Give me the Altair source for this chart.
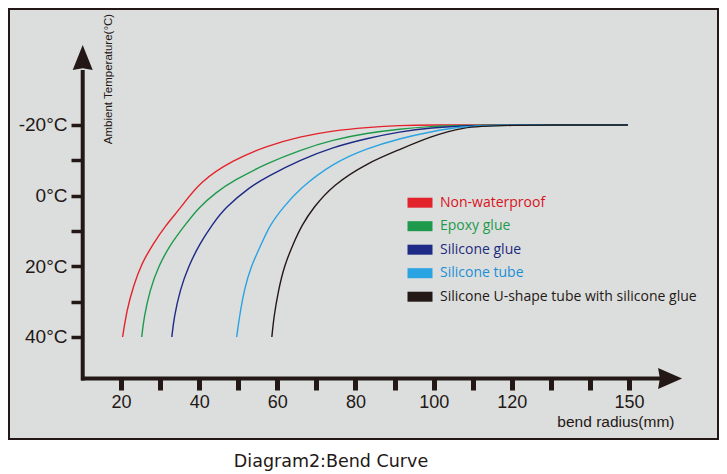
import altair as alt
import pandas as pd

# ---------------- data ----------------
series_names = [
    "Non-waterproof",
    "Epoxy glue",
    "Silicone glue",
    "Silicone tube",
    "Silicone U-shape tube with silicone glue",
]
series_colors = ["#e3232b", "#1f9a4c", "#1d2a86", "#2aa3e2", "#231815"]
label_colors = ["#d9121c", "#1f9a4c", "#1d2a7e", "#1b8fd6", "#231815"]

red_radius = [20.4, 21.5, 23.1, 25.3, 28.3, 31.3, 35.3, 40.2, 48.7, 57.4, 65.8, 74.2, 82.9, 91.4, 99.1, 117.0, 149.7]
red_temp = [40, 32.4, 25.8, 19.1, 13.5, 8.6, 3.4, -4.0, -10.1, -14.1, -16.7, -18.4, -19.3, -19.9, -20, -20, -20]

green_radius = [25.3, 25.9, 27.4, 29.5, 32.8, 36.4, 39.8, 44.5, 48.7, 57.4, 65.8, 74.2, 82.9, 91.4, 99.1, 108.0, 149.7]
green_temp = [40, 34.3, 26.7, 20.1, 13.5, 8.3, 3.4, -1.1, -4.2, -9.2, -12.9, -15.8, -17.7, -18.9, -19.6, -20, -20]

blue_radius = [33.0, 33.6, 35.1, 37.2, 40.2, 43.3, 46.6, 53.0, 57.4, 65.8, 74.2, 82.9, 91.4, 99.1, 109.3, 117.0, 149.7]
blue_temp = [40, 34.3, 26.7, 20.1, 13.5, 8.3, 3.4, -2.5, -5.4, -10.1, -13.7, -16.2, -18.1, -19.2, -19.9, -20, -20]

lightblue_radius = [49.6, 50.3, 51.5, 53.2, 56.0, 58.1, 61.4, 65.8, 74.2, 82.9, 91.4, 99.1, 107.5, 116.2, 149.7]
lightblue_temp = [40, 34.3, 26.7, 20.1, 13.5, 8.3, 3.4, -2.1, -9.2, -13.4, -16.2, -18.1, -19.6, -20, -20]

black_radius = [58.6, 59.1, 60.3, 61.7, 64.1, 66.3, 69.2, 74.2, 82.9, 91.4, 99.1, 107.5, 116.2, 149.7]
black_temp = [40, 34.3, 26.7, 20.1, 13.5, 8.3, 3.4, -3.0, -9.2, -13.1, -16.7, -19.4, -20, -20]

x_tick_values = [20, 30, 40, 50, 60, 70, 80, 90, 100, 110, 120, 130, 140, 150]
x_label_values = [20, 40, 60, 80, 100, 120, 150]
y_tick_values = [-20, -10, 0, 10, 20, 30, 40]

# axis-line / arrow extents (data units)
x_domain = [-8.66, 172.76]
y_domain = [-52.83, 68.87]
yaxis_at_radius = 10.2
yaxis_from, yaxis_to = -35.6, 52.3
xaxis_at_temp = 51.75
xaxis_from, xaxis_to = 9.76, 158.4
arrow_up_at = -39.1
arrow_right_at = 160.5

# ---------------- build table ----------------
all_series = [
    (red_radius, red_temp),
    (green_radius, green_temp),
    (blue_radius, blue_temp),
    (lightblue_radius, lightblue_temp),
    (black_radius, black_temp),
]
rows = []
for name, (rs, ts) in zip(series_names, all_series):
    for i, (r, t) in enumerate(zip(rs, ts)):
        rows.append({"series": name, "radius": r, "temp": t, "order": i})
df = pd.DataFrame(rows)

ink = "#231815"
xscale = alt.Scale(domain=x_domain, nice=False, zero=False)
yscale = alt.Scale(domain=y_domain, nice=False, zero=False, reverse=True)

x_label_test = "indexof([" + ",".join(str(v) for v in x_label_values) + "], datum.value) >= 0 ? datum.label : ''"

color_expr = ""
for n, c in zip(series_names[:-1], label_colors[:-1]):
    color_expr += f"datum.value == '{n}' ? '{c}' : "
color_expr += f"'{label_colors[-1]}'"

x_axis = alt.Axis(
    values=x_tick_values,
    labelExpr=x_label_test,
    offset=-60.5,
    domain=False,
    grid=False,
    tickSize=11.5,
    tickWidth=5,
    tickColor=ink,
    labelColor=ink,
    labelFont="Liberation Sans",
    labelFontSize=18,
    labelPadding=3,
    labelOverlap=False,
    labelFlush=False,
    title="bend radius(mm)",
    titleFont="Liberation Sans Narrow, Liberation Sans",
    titleFontSize=15.5,
    titleFontWeight="normal",
    titleColor=ink,
    titleX=665,
    titleY=48,
    titleAlign="right",
    titleBaseline="alphabetic",
)
y_axis = alt.Axis(
    values=y_tick_values,
    labelExpr="datum.value % 20 == 0 ? datum.value + '°C' : ''",
    offset=-74,
    domain=False,
    grid=False,
    tickSize=12,
    tickWidth=3.5,
    tickColor=ink,
    labelColor=ink,
    labelFont="Liberation Sans",
    labelFontSize=19,
    labelPadding=4,
    labelOverlap=False,
    title="Ambient Temperature(°C)",
    titleFont="Liberation Sans",
    titleFontSize=11.5,
    titleFontWeight="normal",
    titleColor=ink,
    titleAngle=270,
    titleX=25,
    titleY=69.5,
    titleAlign="center",
    titleBaseline="middle",
)

lines = alt.Chart(df).mark_line(interpolate="basis", strokeWidth=1.4).encode(
    x=alt.X("radius:Q", scale=xscale, axis=x_axis),
    y=alt.Y("temp:Q", scale=yscale, axis=y_axis),
    color=alt.Color(
        "series:N",
        scale=alt.Scale(domain=series_names, range=series_colors),
        legend=None,
    ),
    order="order:Q",
)

# legend-only layer (no rows drawn), filled rectangular swatches
legend_layer = alt.Chart(df).transform_filter("datum.order < 0").mark_point(
    shape="M-2.5,-1H2.5V1H-2.5Z", filled=True, opacity=1
).encode(
    x=alt.X("radius:Q", scale=xscale, axis=x_axis),
    y=alt.Y("temp:Q", scale=yscale, axis=y_axis),
    fill=alt.Fill(
        "series:N",
        scale=alt.Scale(domain=series_names, range=series_colors),
        legend=alt.Legend(
            orient="none",
            legendX=404,
            legendY=186.7,
            title=None,
            padding=0,
            symbolType="M-2.5,-1H2.5V1H-2.5Z",
            symbolSize=100,
            symbolStrokeWidth=0,
            symbolOpacity=1,
            labelFont="Open Sans",
            labelFontSize=14,
            labelOffset=13,
            labelLimit=400,
            rowPadding=9.5,
            labelColor={"expr": color_expr},
        ),
    ),
)

yaxis_df = pd.DataFrame({"radius": [yaxis_at_radius], "temp": [yaxis_from], "temp2": [yaxis_to]})
xaxis_df = pd.DataFrame({"radius": [xaxis_from], "radius2": [xaxis_to], "temp": [xaxis_at_temp]})

yline = alt.Chart(yaxis_df).mark_rule(strokeWidth=4, color=ink).encode(
    x=alt.X("radius:Q", scale=xscale, axis=x_axis),
    y=alt.Y("temp:Q", scale=yscale, axis=y_axis),
    y2="temp2:Q",
)
xline = alt.Chart(xaxis_df).mark_rule(strokeWidth=4, color=ink).encode(
    x=alt.X("radius:Q", scale=xscale, axis=x_axis),
    x2="radius2:Q",
    y=alt.Y("temp:Q", scale=yscale, axis=y_axis),
)

up_df = pd.DataFrame({"radius": [yaxis_at_radius], "temp": [arrow_up_at]})
right_df = pd.DataFrame({"radius": [arrow_right_at], "temp": [xaxis_at_temp]})

up_arrow = alt.Chart(up_df).mark_point(
    shape="M0,-1L0.8,1L0,0.85L-0.8,1Z", size=625, filled=True, color=ink, opacity=1, strokeWidth=0
).encode(
    x=alt.X("radius:Q", scale=xscale, axis=x_axis),
    y=alt.Y("temp:Q", scale=yscale, axis=y_axis),
)
right_arrow = alt.Chart(right_df).mark_point(
    shape="M1,0L-1,0.875L-0.85,0L-1,-0.875Z", size=576, filled=True, color=ink, opacity=1, strokeWidth=0
).encode(
    x=alt.X("radius:Q", scale=xscale, axis=x_axis),
    y=alt.Y("temp:Q", scale=yscale, axis=y_axis),
)

chart = (
    alt.layer(lines, legend_layer, yline, xline, up_arrow, right_arrow)
    .resolve_scale(color="independent", fill="independent")
    .properties(
        width=709,
        height=430,
        autosize=alt.AutoSizeParams(type="none"),
        padding={"left": 1, "top": 1, "right": 1, "bottom": 34},
        title=alt.TitleParams(
            text="Diagram2:Bend Curve",
            orient="bottom",
            anchor="middle",
            dx=-32.5,
            offset=14,
            fontSize=17.5,
            font="DejaVu Sans",
            fontWeight="normal",
            color=ink,
            baseline="top",
        ),
    )
    .configure_view(fill="#dcdedd", stroke=ink, strokeWidth=2)
)

chart.save("out.html", embed_options={"renderer": "svg", "actions": False})
